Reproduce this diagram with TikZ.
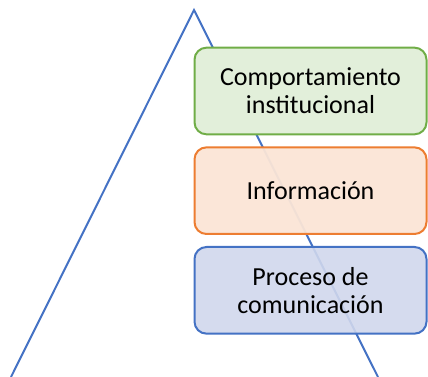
\documentclass[tikz,border=0pt]{standalone}
\usepackage{fontspec}
\setmainfont{Carlito}
\usetikzlibrary{positioning}
\definecolor{edgeblue}{HTML}{4472C4}
\definecolor{edgegreen}{HTML}{70AD47}
\definecolor{edgeorange}{HTML}{ED7D31}
\definecolor{fillgreen}{HTML}{E2EFDA}
\definecolor{fillorange}{HTML}{FBE5D6}
\definecolor{fillblue}{HTML}{D0D7EC}
\tikzset{
  level/.style={
    draw,
    line width=1.5pt,
    rounded corners=9pt,
    minimum width=174pt,
    minimum height=65pt,
    align=center,
    font=\fontsize{19.5pt}{21pt}\selectfont
  },
  side/.style={
    draw=edgeblue,
    line width=1.5pt
  }
}
\begin{document}
\begin{tikzpicture}[x=0.75pt,y=-0.75pt,node distance=8.25pt]
  \useasboundingbox (0,0) rectangle (428,377);
  \coordinate (apex) at (194,10);
  \coordinate (base left) at (11,377);
  \coordinate (base right) at (378,377);
  \draw[side] (base left) -- (apex) -- (base right);
  \node[level, draw=edgegreen, fill=fillgreen] (conducta) at (310.5,91) {Comportamiento\\institucional};
  \node[level, draw=edgeorange, fill=fillorange, fill opacity=0.95, text opacity=1, below=of conducta] (informacion) {Información};
  \node[level, draw=edgeblue, fill=fillblue, fill opacity=0.9, text opacity=1, below=of informacion] (proceso) {Proceso de\\comunicación};
\end{tikzpicture}
\end{document}
